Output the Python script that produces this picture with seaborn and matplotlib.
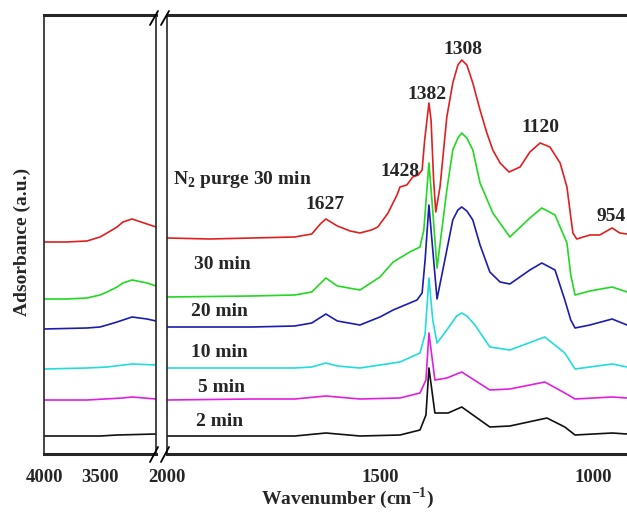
import numpy as np
import pandas as pd
import seaborn as sns
import matplotlib.pyplot as plt
from matplotlib.lines import Line2D

sns.set_style('white')
plt.rcParams['font.family'] = ['Liberation Serif', 'DejaVu Serif']
plt.rcParams['font.weight'] = 'bold'
plt.rcParams['mathtext.fontset'] = 'custom'
plt.rcParams['mathtext.rm'] = 'Liberation Serif:bold'
plt.rcParams['mathtext.bf'] = 'Liberation Serif:bold'

# ---------------- data ----------------
samples = ['2 min', '5 min', '10 min', '20 min', '30 min', 'N2 purge 30 min']
colors = ['#111111', '#e020e0', '#22dcdc', '#1c1cb0', '#22d822', '#e02020']

# 4000-3000 cm-1 region
wn_hi_red = [4000, 3800, 3616, 3500, 3437, 3348, 3295, 3214, 3080, 3000]
ab_hi_red = [2.12, 2.12, 2.13, 2.17, 2.21, 2.27, 2.32, 2.35, 2.30, 2.27]
wn_hi_green = [4000, 3800, 3616, 3500, 3437, 3348, 3295, 3214, 3080, 3000]
ab_hi_green = [1.55, 1.55, 1.56, 1.59, 1.62, 1.67, 1.71, 1.74, 1.71, 1.68]
wn_hi_blue = [4000, 3616, 3500, 3437, 3348, 3214, 3080, 3000]
ab_hi_blue = [1.25, 1.26, 1.27, 1.29, 1.32, 1.37, 1.35, 1.33]
wn_hi_cyan = [4000, 3616, 3437, 3214, 3000]
ab_hi_cyan = [0.85, 0.86, 0.87, 0.90, 0.89]
wn_hi_mag = [4000, 3616, 3300, 3214, 3000]
ab_hi_mag = [0.54, 0.54, 0.56, 0.57, 0.55]
wn_hi_black = [4000, 3500, 3348, 3000]
ab_hi_black = [0.18, 0.18, 0.19, 0.20]

# 2000-920 cm-1 region
wn_lo_red = [2000, 1900, 1800, 1700, 1660, 1640, 1627, 1600, 1570, 1547, 1520, 1505,
             1481, 1460, 1453, 1437, 1423, 1410, 1401, 1395, 1385, 1380, 1374, 1369,
             1359, 1343, 1329, 1317, 1308, 1296, 1282, 1265, 1249, 1235, 1218, 1197,
             1171, 1148, 1124, 1101, 1077, 1061, 1052, 1047, 1038, 1007, 984, 955, 937, 920]
ab_lo_red = [2.16, 2.15, 2.16, 2.17, 2.20, 2.30, 2.35, 2.28, 2.23, 2.21, 2.24, 2.27,
             2.41, 2.59, 2.67, 2.69, 2.77, 2.79, 2.84, 3.14, 3.51, 3.34, 2.74, 2.42,
             2.67, 3.37, 3.71, 3.89, 3.94, 3.89, 3.71, 3.44, 3.21, 3.04, 2.91, 2.82,
             2.87, 3.02, 3.11, 3.07, 2.91, 2.67, 2.37, 2.21, 2.15, 2.19, 2.19, 2.26, 2.21, 2.20]
wn_lo_green = [2000, 1800, 1700, 1660, 1627, 1600, 1547, 1500, 1469, 1430, 1406, 1397,
               1385, 1378, 1366, 1343, 1329, 1317, 1308, 1296, 1282, 1265, 1235, 1195,
               1148, 1120, 1089, 1061, 1052, 1042, 1007, 955, 920]
ab_lo_green = [1.57, 1.58, 1.59, 1.62, 1.76, 1.68, 1.64, 1.77, 1.92, 2.02, 2.07, 2.24,
               2.91, 2.54, 1.86, 2.64, 3.04, 3.16, 3.21, 3.16, 3.04, 2.71, 2.41, 2.17,
               2.36, 2.46, 2.39, 2.11, 1.79, 1.59, 1.63, 1.67, 1.62]
wn_lo_blue = [2000, 1800, 1700, 1660, 1627, 1600, 1547, 1500, 1469, 1413, 1401, 1394,
              1385, 1378, 1366, 1343, 1329, 1317, 1308, 1296, 1282, 1265, 1242, 1218,
              1195, 1148, 1120, 1089, 1066, 1052, 1042, 1007, 955, 920]
ab_lo_blue = [1.27, 1.27, 1.28, 1.31, 1.40, 1.33, 1.29, 1.37, 1.44, 1.54, 1.61, 1.94,
              2.49, 2.14, 1.55, 2.04, 2.34, 2.44, 2.47, 2.43, 2.34, 2.09, 1.82, 1.72,
              1.70, 1.84, 1.91, 1.84, 1.54, 1.34, 1.26, 1.29, 1.35, 1.29]
wn_lo_cyan = [2000, 1800, 1700, 1660, 1627, 1600, 1547, 1453, 1406, 1394, 1385, 1376,
              1366, 1343, 1320, 1308, 1296, 1277, 1242, 1195, 1113, 1066, 1042, 955, 920]
ab_lo_cyan = [0.86, 0.86, 0.86, 0.87, 0.91, 0.88, 0.86, 0.92, 1.01, 1.20, 1.76, 1.34,
              1.11, 1.24, 1.38, 1.41, 1.38, 1.29, 1.07, 1.04, 1.17, 1.01, 0.85, 0.90, 0.87]
wn_lo_mag = [2000, 1800, 1700, 1627, 1547, 1453, 1406, 1392, 1385, 1371, 1343, 1308,
             1242, 1195, 1113, 1066, 1042, 955, 920]
ab_lo_mag = [0.54, 0.55, 0.55, 0.58, 0.55, 0.56, 0.61, 0.74, 1.21, 0.74, 0.76, 0.82,
             0.64, 0.65, 0.72, 0.61, 0.55, 0.57, 0.56]
wn_lo_black = [2000, 1800, 1700, 1627, 1547, 1453, 1406, 1392, 1385, 1371, 1340, 1308,
               1242, 1195, 1108, 1066, 1042, 955, 920]
ab_lo_black = [0.18, 0.18, 0.18, 0.21, 0.18, 0.19, 0.24, 0.39, 0.86, 0.41, 0.41, 0.47,
               0.27, 0.28, 0.36, 0.27, 0.19, 0.21, 0.20]

hi = [(wn_hi_black, ab_hi_black), (wn_hi_mag, ab_hi_mag), (wn_hi_cyan, ab_hi_cyan),
      (wn_hi_blue, ab_hi_blue), (wn_hi_green, ab_hi_green), (wn_hi_red, ab_hi_red)]
lo = [(wn_lo_black, ab_lo_black), (wn_lo_mag, ab_lo_mag), (wn_lo_cyan, ab_lo_cyan),
      (wn_lo_blue, ab_lo_blue), (wn_lo_green, ab_lo_green), (wn_lo_red, ab_lo_red)]


def to_df(parts):
    rows = []
    for name, (w, a) in zip(samples, parts):
        rows.append(pd.DataFrame({'wn': w, 'A': a, 'sample': name}))
    return pd.concat(rows, ignore_index=True)


df_hi = to_df(hi)
df_lo = to_df(lo)
pal = dict(zip(samples, colors))

# ---------------- figure ----------------
fig = plt.figure(figsize=(6.27, 5.13), dpi=100)
ax1 = fig.add_axes([0.0702, 0.115, 0.1786, 0.8558])
ax2 = fig.add_axes([0.2663, 0.115, 0.7337, 0.8558])

sns.lineplot(data=df_hi, x='wn', y='A', hue='sample', palette=pal, ax=ax1,
             legend=False, estimator=None, lw=1.2)
sns.lineplot(data=df_lo, x='wn', y='A', hue='sample', palette=pal, ax=ax2,
             legend=False, estimator=None, lw=1.2)

ax1.set_xlim(4000, 3000)
ax2.set_xlim(2000, 920)
for ax in (ax1, ax2):
    ax.set_ylim(0, 4.39)
    ax.set_xlabel('')
    ax.set_ylabel('')
    ax.set_yticks([])
    ax.spines['top'].set_linewidth(2.2)
    ax.spines['bottom'].set_linewidth(2.2)
    ax.spines['left'].set_linewidth(1.2)
    ax.spines['right'].set_linewidth(1.2)
    ax.tick_params(axis='x', which='both', direction='out', length=5, width=1.2,
                   labelsize=13.5, pad=6)
ax2.spines['right'].set_visible(False)

ax1.set_xticks([4000, 3500])
ax1.set_xticks([3750, 3250], minor=True)
ax2.set_xticks([2000, 1500, 1000])
ax2.set_xticks([1900, 1800, 1700, 1600, 1400, 1300, 1200, 1100], minor=True)
for lab in ax1.get_xticklabels() + ax2.get_xticklabels():
    lab.set_fontweight('bold')

# labels on the spectra
fs = 14
ax2.text(1986, 2.74, r'N$_\mathbf{2}$ purge 30 min', fontsize=fs, fontweight='bold',
         ha='left', va='center')
peaks = [('1308', 1305, 4.04), ('1382', 1390, 3.59), ('1428', 1453, 2.82),
         ('1627', 1629, 2.49), ('1120', 1124, 3.26)]
for txt, x, y in peaks:
    ax2.text(x, y, txt, fontsize=fs, fontweight='bold', ha='center', va='center')
ax2.text(923, 2.37, '954', fontsize=fs, fontweight='bold', ha='right', va='center')
times = [('30 min', 1871, 1.89), ('20 min', 1876, 1.42), ('10 min', 1876, 1.01),
         ('5 min', 1873, 0.67), ('2 min', 1876, 0.33)]
for txt, x, y in times:
    ax2.text(x, y, txt, fontsize=fs, fontweight='bold', ha='center', va='center')

fig.text(348 / 627, 1 - 498 / 513, r'Wavenumber (cm$^{\mathbf{-1}}$)', fontsize=14,
         fontweight='bold', ha='center', va='center')
fig.text(22 / 627, 1 - 242 / 513, 'Adsorbance (a.u.)', fontsize=14, fontweight='bold',
         ha='center', va='center', rotation=90)

# axis break marks
W, H = 627.0, 513.0
for (x0, y0, x1, y1) in [(150, 25, 158, 11), (161, 25, 169, 11),
                         (150, 462, 158, 447), (161, 462, 169, 447)]:
    fig.add_artist(Line2D([x0 / W, x1 / W], [1 - y0 / H, 1 - y1 / H],
                          transform=fig.transFigure, color='k', lw=1.3))

fig.savefig('out.png', dpi=100)
